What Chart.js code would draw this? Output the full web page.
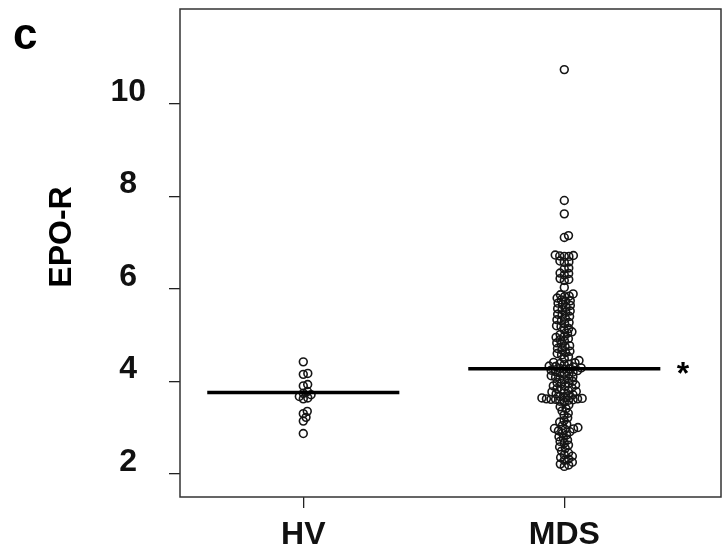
<!DOCTYPE html>
<html>
<head>
<meta charset="utf-8">
<script src="https://cdn.jsdelivr.net/npm/chart.js"></script>
<style>
  body { margin: 0; background: #fff; }
  canvas { display: block; }
</style>
</head>
<body>
<canvas id="myChart" width="722" height="550"></canvas>
<script>
// categories on the x axis
const categories = ['HV', 'MDS'];

// EPO-R values
const hvValues = [4.42, 4.17, 4.15, 3.93, 3.90, 3.78, 3.74, 3.71, 3.67, 3.64, 3.62,
    3.35, 3.30, 3.22, 3.14, 2.87];

const mdsValues = [10.74, 7.91, 7.62, 7.15, 7.11,
    6.73, 6.72, 6.71, 6.70, 6.70, 6.60, 6.58, 6.57, 6.45, 6.43, 6.34, 6.33, 6.30,
    6.22, 6.20, 6.18, 6.03,
    5.89, 5.87, 5.84, 5.83, 5.80, 5.76, 5.74, 5.73, 5.69, 5.66, 5.64, 5.60, 5.57,
    5.55, 5.52, 5.49, 5.45, 5.43, 5.40, 5.36, 5.33, 5.31, 5.27, 5.24, 5.20, 5.18,
    5.14, 5.11, 5.07, 5.04, 5.01,
    4.97, 4.95, 4.92, 4.90, 4.87, 4.83, 4.80, 4.77, 4.75, 4.71, 4.68, 4.65, 4.62,
    4.60, 4.57, 4.53, 4.49, 4.45,
    4.41, 4.40, 4.38, 4.37, 4.36, 4.33, 4.32, 4.31, 4.29, 4.28, 4.27, 4.26, 4.24,
    4.23, 4.21, 4.20, 4.18, 4.16, 4.15, 4.12, 4.10, 4.09, 4.06, 4.05, 4.03, 4.00,
    3.97, 3.96, 3.95, 3.92, 3.90, 3.89, 3.86, 3.84, 3.83, 3.80, 3.78, 3.77,
    3.75, 3.73, 3.71, 3.69, 3.67, 3.65, 3.64, 3.63, 3.62, 3.62, 3.61, 3.61, 3.60,
    3.59, 3.57, 3.55,
    3.49, 3.45, 3.41, 3.36, 3.31, 3.27, 3.21, 3.15, 3.12, 3.07, 3.04,
    3.00, 2.98, 2.97, 2.96,
    2.93, 2.91, 2.88, 2.84, 2.80, 2.77, 2.73, 2.70, 2.66, 2.62, 2.58, 2.55, 2.49,
    2.45, 2.41, 2.38, 2.35, 2.32, 2.29, 2.25,
    2.21, 2.19, 2.16];

// median lines
const medians = [3.76, 4.27];

// y axis ticks
const yTicks = [2, 4, 6, 8, 10];

// significance mark next to MDS
const starPos = { x: 2.455, y: 4.33 };

const fontFamily = '"Liberation Sans", Arial, Helvetica, sans-serif';
const halfLine = 0.368;   // half length of a median line (x units)
const spacing = 4.6;      // minimum distance between point centres (px)

// simple beeswarm: every point goes as close to the centre as it can
function swarm(values, toPixel, d) {
    const order = values.map((v, i) => i).sort((a, b) => values[a] - values[b]);
    const placed = [];
    const offsets = new Array(values.length);
    order.forEach(i => {
        const y = toPixel(values[i]);
        const near = placed.filter(p => Math.abs(p.y - y) < d);
        const cands = [0];
        near.forEach(p => {
            const dx = Math.sqrt(d * d - (p.y - y) * (p.y - y));
            cands.push(p.x + dx, p.x - dx);
        });
        cands.sort((a, b) => Math.abs(a) - Math.abs(b));
        const x = cands.find(c => near.every(p => (p.x - c) * (p.x - c) + (p.y - y) * (p.y - y) >= d * d - 0.01));
        offsets[i] = x;
        placed.push({ x: x, y: y });
    });
    return offsets;
}

// box, panel letter, y title and the star
const extras = {
    id: 'extras',
    afterDraw(chart) {
        const c = chart.ctx;
        const a = chart.chartArea;
        c.save();
        c.strokeStyle = '#333';
        c.lineWidth = 1.5;
        c.strokeRect(a.left, a.top, a.right - a.left, a.bottom - a.top);

        c.fillStyle = '#000';
        c.font = 'bold 44px ' + fontFamily;
        c.textAlign = 'left';
        c.textBaseline = 'alphabetic';
        c.fillText('c', 13, 49);

        c.font = 'bold 32px ' + fontFamily;
        c.save();
        c.translate(62, 237);
        c.rotate(-Math.PI / 2);
        c.textAlign = 'center';
        c.textBaseline = 'middle';
        c.fillText('EPO-R', 0, 0);
        c.restore();

        const sx = chart.scales.x.getPixelForValue(starPos.x);
        const sy = chart.scales.y.getPixelForValue(starPos.y);
        c.textAlign = 'center';
        c.textBaseline = 'alphabetic';
        c.fillText('*', sx, sy + 18);
        c.restore();
    }
};

const pointStyle = {
    pointRadius: 3.9,
    pointBorderWidth: 1.6,
    borderColor: '#151515',
    backgroundColor: 'rgba(0,0,0,0)',
    order: 2
};

const lineStyle = {
    showLine: true,
    borderColor: '#000',
    borderWidth: 3.5,
    pointRadius: 0,
    order: 1
};

// no extra room around the axes, the box is placed by hand
function noPadding(axis) {
    axis.paddingTop = 0;
    axis.paddingBottom = 0;
    axis.paddingLeft = 0;
    axis.paddingRight = 0;
}

const ctx = document.getElementById('myChart').getContext('2d');
const myChart = new Chart(ctx, {
    type: 'scatter',
    data: {
        datasets: [
            Object.assign({ label: categories[0], data: hvValues.map(v => ({ x: 1, y: v })) }, pointStyle),
            Object.assign({ label: categories[1], data: mdsValues.map(v => ({ x: 2, y: v })) }, pointStyle),
            Object.assign({ label: 'median HV', data: [{ x: 1 - halfLine, y: medians[0] }, { x: 1 + halfLine, y: medians[0] }] }, lineStyle),
            Object.assign({ label: 'median MDS', data: [{ x: 2 - halfLine, y: medians[1] }, { x: 2 + halfLine, y: medians[1] }] }, lineStyle)
        ]
    },
    options: {
        responsive: false,
        animation: false,
        layout: { autoPadding: false, padding: { top: 9, right: 1, left: 0, bottom: 0 } },
        plugins: {
            legend: { display: false },
            tooltip: { enabled: false }
        },
        scales: {
            x: {
                type: 'linear',
                min: 0.5276,
                max: 2.6004,
                afterBuildTicks: axis => { axis.ticks = categories.map((c, i) => ({ value: i + 1 })); },
                afterFit: axis => { axis.height = 53; noPadding(axis); },
                ticks: {
                    callback: v => categories[v - 1] || '',
                    font: { family: fontFamily, size: 32, weight: 'bold' },
                    color: '#111',
                    padding: 8,
                    maxRotation: 0
                },
                grid: { drawOnChartArea: false, tickLength: 11, color: '#222', lineWidth: 1.3 },
                border: { display: false }
            },
            y: {
                min: 1.498,
                max: 12.05,
                afterBuildTicks: axis => { axis.ticks = yTicks.map(v => ({ value: v })); },
                afterFit: axis => { axis.width = 180; noPadding(axis); },
                ticks: {
                    font: { family: fontFamily, size: 32, weight: 'bold' },
                    color: '#111',
                    padding: 23,
                    crossAlign: 'center',
                    labelOffset: -12
                },
                grid: { drawOnChartArea: false, tickLength: 11, color: '#222', lineWidth: 1.3 },
                border: { display: false }
            }
        }
    },
    plugins: [extras]
});

// spread the points sideways now that the scales are known
const xs = myChart.scales.x;
const ys = myChart.scales.y;
const pxPerUnit = xs.getPixelForValue(2) - xs.getPixelForValue(1);
[hvValues, mdsValues].forEach((vals, gi) => {
    const offsets = swarm(vals, v => ys.getPixelForValue(v), spacing);
    myChart.data.datasets[gi].data = vals.map((v, i) => ({ x: gi + 1 + offsets[i] / pxPerUnit, y: v }));
});
myChart.update('none');
</script>
</body>
</html>
